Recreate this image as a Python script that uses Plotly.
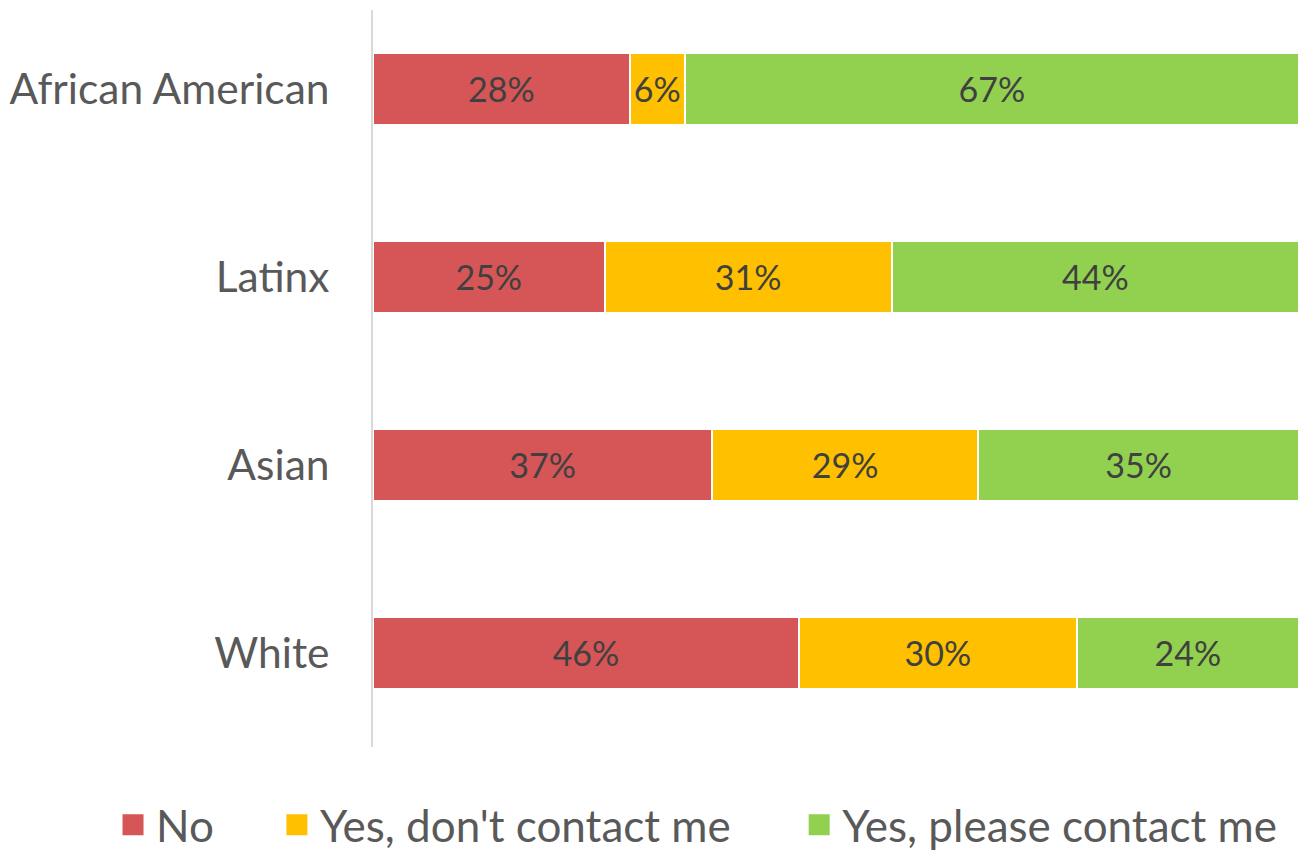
import plotly.graph_objects as go

# Survey responses by group (percent of respondents)
groups = ["White", "Asian", "Latinx", "African American"]
no_vals = [46, 37, 25, 28]
yes_dont_contact = [30, 29, 31, 6]
yes_contact = [24, 35, 44, 67]

series = [
    ("No", no_vals, "#D65557"),
    ("Yes, don't contact me", yes_dont_contact, "#FFC000"),
    ("Yes, please contact me", yes_contact, "#92D050"),
]

FONT = "Lato"
label_gray = "#595959"

fig = go.Figure()

for name, vals, color in series:
    fig.add_trace(go.Bar(
        y=groups,
        x=vals,
        orientation="h",
        name=name,
        marker=dict(color=color, line=dict(color="white", width=2)),
        text=[f"{v}%" for v in vals],
        textposition="inside",
        insidetextanchor="middle",
        textangle=0,
        textfont=dict(family=FONT, size=34, color="#404040"),
        hoverinfo="skip",
        showlegend=False,
    ))

# One legend per entry so each swatch can sit at its own spot along the bottom
legend_ids = ["legend", "legend2", "legend3"]
legend_x = [-0.284, -0.107, 0.457]

for (name, vals, color), lid in zip(series, legend_ids):
    fig.add_trace(go.Scatter(
        x=[None], y=[None],
        mode="markers",
        name=name,
        legend=lid,
        marker=dict(symbol="square", size=16, color=color,
                    line=dict(color=color, width=5)),
        showlegend=True,
    ))

legend_common = dict(
    orientation="h",
    xanchor="left",
    y=-0.106,
    yanchor="middle",
    font=dict(family=FONT, size=44, color=label_gray),
    itemsizing="trace",
    itemwidth=36,
    bgcolor="rgba(0,0,0,0)",
)

fig.update_layout(
    width=1299,
    height=852,
    barmode="stack",
    barnorm="percent",
    bargap=0.62,
    paper_bgcolor="white",
    plot_bgcolor="white",
    margin=dict(l=373, r=0, t=10, b=105, autoexpand=False),
    font=dict(family=FONT, color=label_gray),
    xaxis=dict(range=[0, 100], visible=False, fixedrange=True),
    yaxis=dict(
        categoryorder="array",
        categoryarray=groups,
        range=[-0.5, 3.42],
        showline=True,
        linecolor="#D9D9D9",
        linewidth=2,
        showgrid=False,
        zeroline=False,
        ticks="",
        ticklabelstandoff=33,
        tickfont=dict(family=FONT, size=42.5, color=label_gray),
    ),
    legend=dict(x=legend_x[0], **legend_common),
    legend2=dict(x=legend_x[1], **legend_common),
    legend3=dict(x=legend_x[2], **legend_common),
)

fig.write_html("out.html")
